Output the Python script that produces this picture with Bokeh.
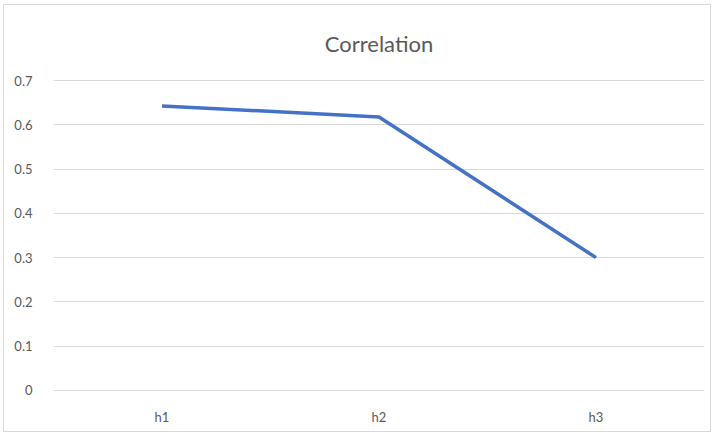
from bokeh.plotting import figure
from bokeh.models import FactorRange, Range1d, FixedTicker, Title, InlineStyleSheet
from bokeh.embed import file_html
from bokeh.resources import INLINE

categories = ["h1", "h2", "h3"]
values = [0.643, 0.618, 0.30]
y_ticks = [0, 0.1, 0.2, 0.3, 0.4, 0.5, 0.6, 0.7]

FONT = "Lato"
TXT = "#595959"

p = figure(width=708, height=428, x_range=FactorRange(*categories, range_padding=0),
           y_range=Range1d(-0.005, 0.705), output_backend="svg", toolbar_location=None,
           min_border_left=49, min_border_right=8, min_border_top=73, min_border_bottom=41)
p.margin = (4, 2, 2, 3)
p.stylesheets = [InlineStyleSheet(css=":host { border: 1px solid #d9d9d9; }")]

p.title = None
t = Title(text="Correlation", align="center", text_font=FONT, text_font_size="22px",
          text_font_style="normal", text_color=TXT, standoff=44)
p.add_layout(t, "above")

p.line(x=categories, y=values, line_color="#4472C4", line_width=3.5, line_join="round")

p.outline_line_color = None
p.background_fill_color = "white"
p.border_fill_color = "white"

p.xgrid.grid_line_color = None
p.ygrid.grid_line_color = "#d9d9d9"
p.ygrid.grid_line_width = 1
p.yaxis.ticker = FixedTicker(ticks=y_ticks)

for ax in (p.xaxis[0], p.yaxis[0]):
    ax.axis_line_color = None
    ax.major_tick_line_color = None
    ax.minor_tick_line_color = None
    ax.major_label_text_font = FONT
    ax.major_label_text_font_size = "13px"
    ax.major_label_text_color = TXT

p.yaxis.major_label_standoff = 15
p.xaxis.major_label_standoff = 10

open("out.html", "w").write(file_html(p, INLINE))
